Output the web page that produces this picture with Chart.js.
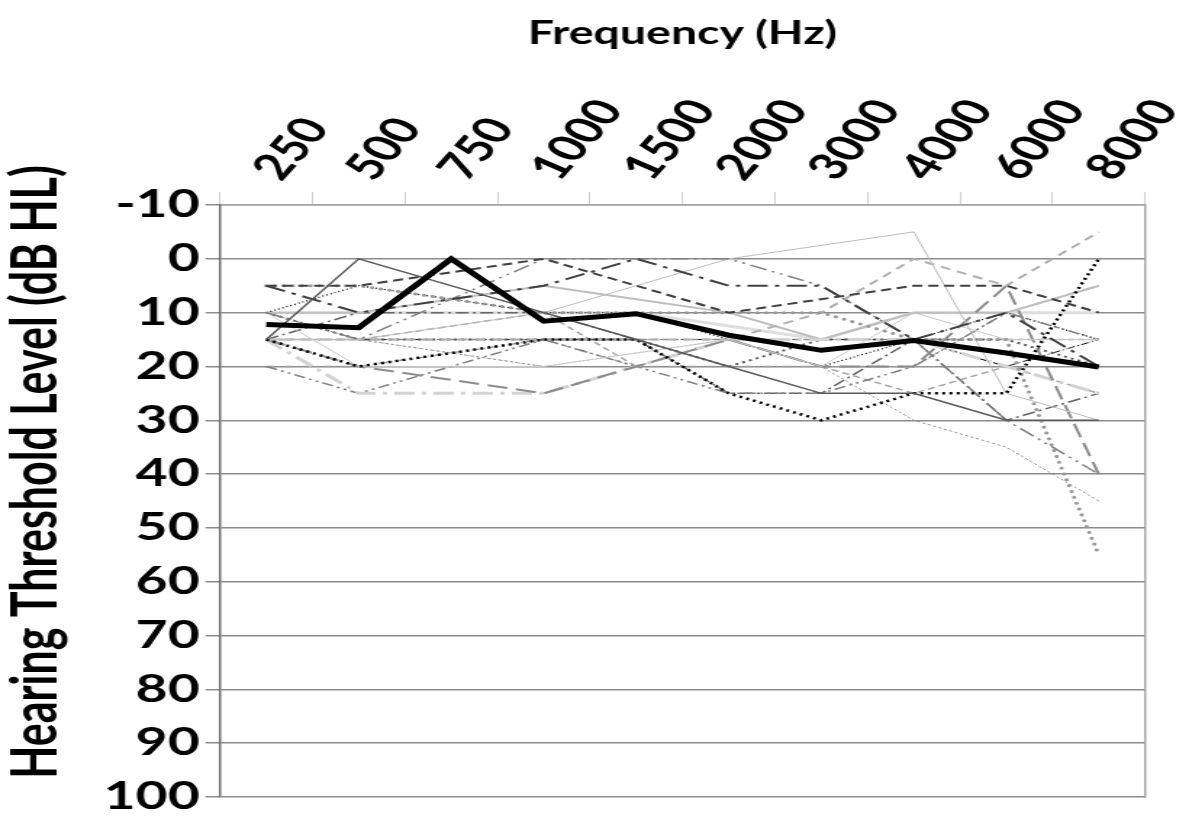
<!DOCTYPE html>
<html>
<head>
<meta charset="utf-8">
<title>Hearing thresholds</title>
<script src="https://cdn.jsdelivr.net/npm/chart.js@4.4.1/dist/chart.umd.min.js"></script>
<style>
  html, body { margin: 0; padding: 0; background: #fff; overflow: hidden; }
  #wrap { width: 817px; height: 825px; transform: scale(1.45, 1); transform-origin: 0 0; }
</style>
</head>
<body>
<div id="wrap"><canvas id="audiogram" width="817" height="825"></canvas></div>
<script>
// frequencies (Hz) - 750 Hz was only kept for the group mean
var frequencies = ['250', '500', '750', '1000', '1500', '2000', '3000', '4000', '6000', '8000'];

var meanThreshold = [12.2, 12.8, 0, 11.6, 10.2, 14.2, 17.0, 15.2, 17.5, 20.1];

var subjA = [15, 0, null, 10, 15, 20, 25, 25, 30, 30];
var subjB = [15, 20, null, 15, 15, 25, 30, 25, 25, 0];
var subjC = [5, 5, null, 0, 5, 10, 7.5, 5, 5, 10];
var subjD = [5, 10, null, 5, 0, 5, 5, 15, 10, 20];
var subjE = [5, 5, null, 10, 10, 10, 10, 15, 15, 55];
var subjF = [10, 15, null, 0, 0, 0, 5, 15, 30, 40];
var subjG = [10, 20, null, 20, 17.5, 15, 20, 10, 15, 15];
var subjH = [15, 15, null, 10, 5, 0, -2.5, -5, 25, 30];
var subjI = [15, 15, null, 15, 15, 15, 10, 0, 5, -5];
var subjJ = [15, 20, null, 25, 20, 15, 20, 20, 5, 40];
var subjK = [15, 25, null, 25, 20, 15, 15, 15, 20, 25];
var subjL = [20, 25, null, 15, 20, 25, 25, 20, 10, 15];
var subjM = [10, 15, null, 20, 20, 15, 20, 30, 35, 45];
var subjN = [10, 5, null, 10, 10, 15, 20, 15, 10, 15];
var subjO = [10, 10, null, 5, 7.5, 10, 15, 10, 10, 5];
var subjP = [15, 15, null, 10, 20, 15, 20, 25, 20, 25];
var subjQ = [15, 10, null, 10, 15, 25, 25, 15, 30, 25];
var subjR = [20, 20, null, 15, 20, 20, 20, 20, 10, 5];
var subjS = [10, 15, null, 15, 15, 20, 15, 15, 15, 20];
var subjT = [15, 15, null, 20, 17.5, 15, 20, 20, 20, 15];
var subjU = [10, 10, null, 10, 10, 12.5, 15, 10, 10, 10];
var subjV = [15, 15, null, 15, 15, 15, 15, 15, 15, 15];
var subjW = [15, 15, null, 15, 15, 15, 15, 15, 20, 15];

var FONT = 'Lato';

function subject(values, color, width, dash, cap) {
  return {
    data: values,
    borderColor: color,
    borderWidth: width,
    borderDash: dash,
    borderCapStyle: cap || 'butt',
    pointRadius: 0,
    fill: false,
    tension: 0,
    spanGaps: true
  };
}

// y axis title drawn by hand so it can sit a bit above the plot centre
var yTitle = {
  id: 'yTitle',
  afterDraw: function(chart) {
    var ctx = chart.ctx;
    ctx.save();
    ctx.translate(25, 472);
    ctx.rotate(-Math.PI / 2);
    ctx.font = 'bold 43px ' + FONT;
    ctx.fillStyle = '#000';
    ctx.textAlign = 'center';
    ctx.textBaseline = 'middle';
    ctx.fillText('Hearing Threshold Level (dB HL)', 0, 0);
    ctx.restore();
  }
};

var datasets = [
  { data: meanThreshold, borderColor: '#000', borderWidth: 5, pointRadius: 0, tension: 0, fill: false, borderJoinStyle: 'miter' },
  subject(subjA, '#595959', 1.5, []),
  subject(subjB, '#000000', 2.5, [2, 3]),
  subject(subjC, '#404040', 2, [7, 4]),
  subject(subjD, '#404040', 2, [14, 5, 3, 5]),
  subject(subjE, '#999999', 3, [0.1, 6], 'round'),
  subject(subjF, '#808080', 1.5, [12, 4, 2, 4, 2, 4]),
  subject(subjG, '#c8c8c8', 1, []),
  subject(subjH, '#bdbdbd', 1, []),
  subject(subjI, '#b0b0b0', 2, [7, 5]),
  subject(subjJ, '#8c8c8c', 2, [14, 6]),
  subject(subjK, '#d3d3d3', 3, [14, 5, 3, 5]),
  subject(subjL, '#808080', 1.5, [8, 3, 2, 3, 2, 3]),
  subject(subjM, '#8c8c8c', 1, [2, 2]),
  subject(subjN, '#000000', 1.2, [1, 2]),
  subject(subjO, '#bfbfbf', 2, []),
  subject(subjP, '#a6a6a6', 1.5, [5, 3]),
  subject(subjQ, '#666666', 1.5, [9, 3, 2, 3]),
  subject(subjR, '#a0a0a0', 1.5, [6, 3, 1, 3]),
  subject(subjS, '#595959', 2, [2, 3]),
  subject(subjT, '#a6a6a6', 1, [1, 2]),
  subject(subjU, '#dedede', 3, []),
  subject(subjV, '#909090', 1.5, [4, 3]),
  subject(subjW, '#000000', 1, [6, 2, 1, 2])
];

var chart = new Chart(document.getElementById('audiogram'), {
  type: 'line',
  data: { labels: frequencies, datasets: datasets },
  plugins: [yTitle],
  options: {
    responsive: false,
    animation: false,
    devicePixelRatio: 1,
    layout: { padding: { left: 0, right: 27.3, top: 0, bottom: 28 } },
    plugins: { legend: { display: false }, tooltip: { enabled: false } },
    scales: {
      x: {
        position: 'top',
        offset: true,
        grid: { offset: true, drawOnChartArea: false, tickLength: 13, color: '#d0d0d0', lineWidth: 1 },
        border: { color: '#a6a6a6', width: 1.5 },
        ticks: {
          autoSkip: false, minRotation: 58, maxRotation: 58, padding: 4, labelOffset: 38,
          color: '#000', font: { family: FONT, size: 37, weight: 'bold' }
        },
        title: {
          display: true, text: 'Frequency (Hz)', color: '#000',
          font: { family: FONT, size: 32, weight: 'bold' },
          padding: { top: 14, bottom: 0 }
        },
        afterFit: function(scale) {
          scale.height = 205;
          scale.paddingLeft = 0;
          scale.paddingRight = 0;
        }
      },
      y: {
        reverse: true,
        min: -10,
        max: 100,
        ticks: {
          stepSize: 10, padding: 4, color: '#000',
          font: { family: FONT, size: 38, weight: 'bold' }
        },
        grid: { color: '#8c8c8c', lineWidth: 1.5, tickLength: 10 },
        border: { color: '#6d6d6d', width: 1.5 },
        afterFit: function(scale) {
          scale.width = 151.7;
          scale.paddingTop = 0;
          scale.paddingBottom = 0;
        }
      },
      y1: {
        position: 'right',
        ticks: { display: false },
        grid: { drawOnChartArea: false, drawTicks: false },
        border: { color: '#a6a6a6', width: 1.5 },
        afterFit: function(scale) {
          scale.width = 0;
        }
      }
    }
  }
});
</script>
</body>
</html>
